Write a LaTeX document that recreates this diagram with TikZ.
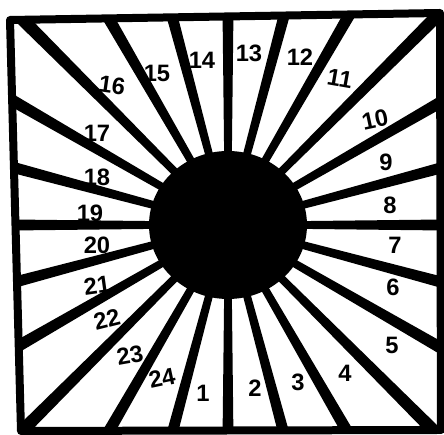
\documentclass[tikz,border=0pt]{standalone}
\usepackage{fontspec}
\setsansfont{Liberation Sans}
\usetikzlibrary{positioning}

\begin{document}
\begin{tikzpicture}[
    x=0.02cm, y=0.02cm,
    frame/.style={draw, line width=0.16cm, line join=round},
    spoke/.style={fill=black},
    hub/.style={fill=black},
    num/.style={font=\sffamily\bfseries\fontsize{13.5pt}{13.5pt}\selectfont, inner sep=0pt},
]
\useasboundingbox (-228,-210) rectangle (216,225);

% === Border and spokes ===
\coordinate (tl) at (-218,205);
\coordinate (tr) at (212,212);
\coordinate (br) at (213,-205);
\coordinate (bl) at (-207,-206);

\begin{scope}
\clip (tl) -- (tr) -- (br) -- (bl) -- cycle;
\foreach \a in {0,15,...,345}
    \fill[spoke, rotate=\a] (40,-3.5) -- (330,-6.8) -- (330,6.8) -- (40,3.5) -- cycle;
\end{scope}

\draw[frame] (tl) -- (tr) -- (br) -- (bl) -- cycle;

% Centre disc
\fill[hub] (0,0) ellipse [x radius=79, y radius=74];

% === Numbers ===
\node[num] (n1) at (-25,-168) {1};
\node[num] (n2) at (27,-163) {2};
\node[num] (n3) at (70,-157) {3};
\node[num] (n4) at (117,-148) {4};
\node[num] (n5) at (164,-120) {5};
\node[num] (n6) at (165,-62) {6};
\node[num] (n7) at (167,-20) {7};
\node[num] (n8) at (162,20) {8};
\node[num] (n9) at (158,63) {9};
\node[num, rotate=12] (n10) at (147,105) {10};
\node[num, rotate=-10] (n11) at (112,146) {11};
\node[num] (n12) at (72,168) {12};
\node[num] (n13) at (21,172) {13};
\node[num] (n14) at (-26,165) {14};
\node[num] (n15) at (-71,152) {15};
\node[num, rotate=-8] (n16) at (-116,140) {16};
\node[num] (n17) at (-131,92) {17};
\node[num] (n18) at (-131,48) {18};
\node[num] (n19) at (-138,12) {19};
\node[num] (n20) at (-131,-20) {20};
\node[num, rotate=8] (n21) at (-131,-60) {21};
\node[num, rotate=14] (n22) at (-121,-94) {22};
\node[num, rotate=10] (n23) at (-98,-130) {23};
\node[num, rotate=12] (n24) at (-66,-153) {24};

\end{tikzpicture}
\end{document}
